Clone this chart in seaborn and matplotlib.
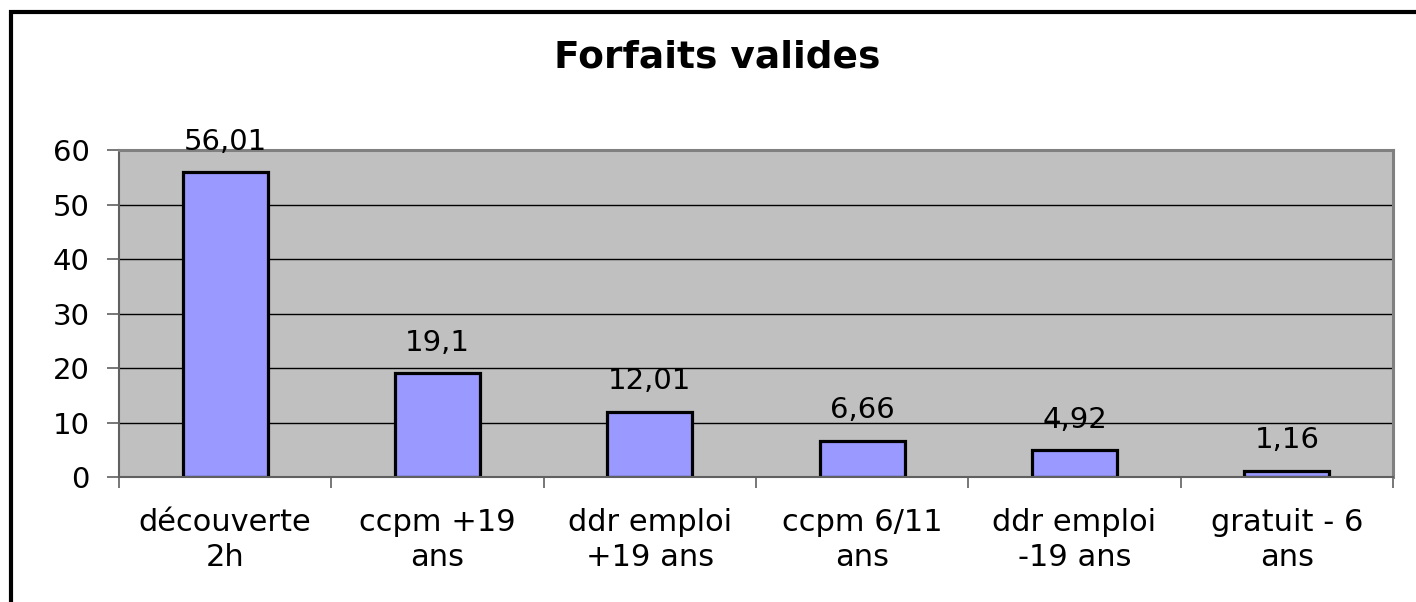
import matplotlib
matplotlib.use('Agg')
import matplotlib.pyplot as plt
import seaborn as sns
import pandas as pd
from matplotlib.patches import Rectangle

categories = ['découverte\n2h', 'ccpm +19\nans', 'ddr emploi\n+19 ans',
              'ccpm 6/11\nans', 'ddr emploi\n-19 ans', 'gratuit - 6\nans']
values = [56.01, 19.1, 12.01, 6.66, 4.92, 1.16]
yticks = [0, 10, 20, 30, 40, 50, 60]

df = pd.DataFrame({'forfait': categories, 'pct': values})

sns.set_style('white')
plt.rcParams['font.family'] = ['DejaVu Sans']
plt.rcParams['text.color'] = 'black'
plt.rcParams['xtick.color'] = 'black'
plt.rcParams['ytick.color'] = 'black'

fig = plt.figure(figsize=(14.16, 6.02), dpi=100)
ax = fig.add_axes([119 / 1416, 1 - 477 / 602, (1393 - 119) / 1416, (477 - 150) / 602])
ax.set_facecolor('#C0C0C0')

# ── gridlines ──────────────────────────────────────
for y in yticks[1:-1]:
    ax.axhline(y, color='black', lw=1.0, zorder=0.5)

sns.barplot(data=df, x='forfait', y='pct', ax=ax, color='#9999FF',
            saturation=1, width=0.4, edgecolor='black', linewidth=2.3, zorder=2)

for i, v in enumerate(values):
    ax.annotate(f'{v:g}'.replace('.', ','), (i, v), xytext=(0, 16),
                textcoords='offset points', ha='center', va='baseline', fontsize=21)

ax.set_xlim(-0.5, len(categories) - 0.5)
ax.set_ylim(0, 60)
ax.set_yticks(yticks)
ax.set_xlabel('')
ax.set_ylabel('')

ax.tick_params(axis='y', which='major', length=9, width=1.2, color='#606060',
               labelsize=21, pad=12, left=True, labelcolor='black')
ax.tick_params(axis='x', which='major', length=0, labelsize=22, pad=22, labelcolor='black')
for lbl in ax.get_xticklabels():
    lbl.set_linespacing(1.3)
ax.set_xticks([i - 0.5 for i in range(len(categories) + 1)], minor=True)
ax.tick_params(axis='x', which='minor', length=8, width=1.2, color='#606060', bottom=True)

for side in ['left', 'bottom']:
    ax.spines[side].set_color('#606060')
    ax.spines[side].set_linewidth(1.5)
for side in ['top', 'right']:
    ax.spines[side].set_color('#808080')
    ax.spines[side].set_linewidth(2.2)

fig.text(717 / 1416, 1 - 68 / 602, 'Forfaits valides', ha='center', va='baseline',
         fontsize=27, fontweight='bold', color='black')

# outer chart frame
fig.patches.append(Rectangle((11 / 1416, -0.1), 1.2, 1.1 - 11.5 / 602,
                             transform=fig.transFigure, fill=False,
                             edgecolor='black', lw=3, zorder=10))

plt.savefig('out.png', dpi=100)
